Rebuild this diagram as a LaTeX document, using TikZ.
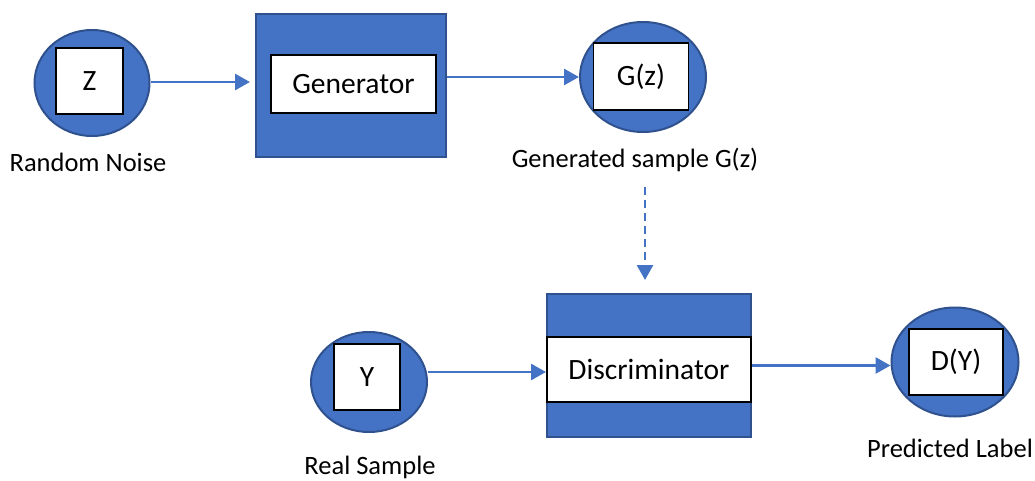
\documentclass[tikz,border=0pt]{standalone}
\usepackage{fontspec}
\setmainfont{Carlito}
\usetikzlibrary{shapes.geometric,arrows.meta}
\definecolor{fillblue}{HTML}{4472C4}
\definecolor{edgeblue}{HTML}{2F528F}
\begin{document}
\begin{tikzpicture}[x=1pt,y=-1pt,
  blob/.style={ellipse, fill=fillblue, draw=edgeblue, line width=2pt, inner sep=0},
  inbox/.style={rectangle, fill=white, draw=black, line width=1.5pt, inner sep=0, font=\fontsize{29.5}{31}\selectfont},
  block/.style={rectangle, fill=fillblue, draw=edgeblue, line width=2pt, inner sep=0},
  lbl/.style={font=\fontsize{26.5}{29}\selectfont, inner sep=0},
  conn/.style={draw=fillblue, line width=2.8pt, -{Triangle[length=15pt,width=16pt]}}]
\useasboundingbox (0,0) rectangle (1035,481);
% Z
\node[blob, minimum width=115pt, minimum height=106pt] (zell) at (92,83) {};
\node[inbox, minimum width=67pt, minimum height=66pt] (zbox) at (89.5,81) {Z};
\node[lbl] (zlbl) at (88,162) {Random Noise};
% Generator
\node[block, minimum width=190pt, minimum height=143pt] (gen) at (351,85.5) {};
\node[inbox, minimum width=165pt, minimum height=58pt] (genbox) at (353.5,84) {Generator};
% G(z)
\node[blob, minimum width=126pt, minimum height=110pt] (gzell) at (643,77) {};
\node[inbox, minimum width=95pt, minimum height=67pt] (gzbox) at (641,76.5) {G(z)};
\node[lbl] (gzlbl) at (635,160) {Generated sample G(z)};
% Discriminator
\node[block, minimum width=204pt, minimum height=143pt] (disc) at (649,365.5) {};
\node[inbox, minimum width=204pt, minimum height=65pt] (discbox) at (649,369.5) {Discriminator};
% Y
\node[blob, minimum width=116pt, minimum height=100pt] (yell) at (369,382) {};
\node[inbox, minimum width=66pt, minimum height=66pt] (ybox) at (367,377) {Y};
\node[lbl] (ylbl) at (370,467) {Real Sample};
% D(Y)
\node[blob, minimum width=127pt, minimum height=109pt] (dyell) at (955,362) {};
\node[inbox, minimum width=94pt, minimum height=66pt] (dybox) at (956,362) {D(Y)};
\node[lbl] (dylbl) at (950,448) {Predicted Label};
% connectors
\draw[conn, shorten >=5pt] ([yshift=1pt]zell.east) -- ([yshift=1pt]zell.east -| gen.west);
\draw[conn] (gzell.west -| gen.east) -- (gzell.west);
\coordinate (dstart) at (645,187);
\draw[conn, dash pattern=on 8pt off 5pt, shorten >=13pt] (dstart) -- (dstart |- disc.north);
\draw[conn] ([yshift=10pt]yell.east) -- ([yshift=10pt]yell.east -| disc.west);
\draw[conn] (disc.east) -- (disc.east -| dyell.west);
\end{tikzpicture}
\end{document}
